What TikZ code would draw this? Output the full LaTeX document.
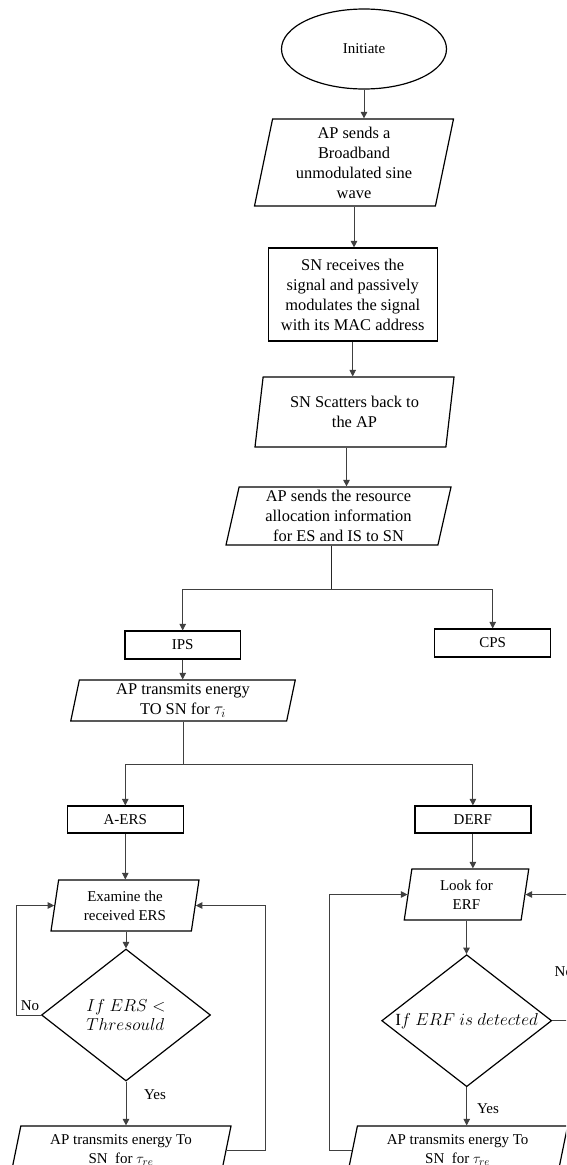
\documentclass[tikz,border=0pt]{standalone}
\usepackage{fontspec}
\setmainfont{Liberation Serif}
\usetikzlibrary{shapes.geometric,arrows.meta,calc}
\begin{document}
\begin{tikzpicture}[x=1pt,y=-1pt]
\tikzstyle{every node}+=[inner sep=0.5pt, align=center, font=\fontsize{15}{19}\selectfont]
\tikzstyle{big}=[font=\fontsize{16.4}{20}\selectfont]
\tikzstyle{lbl}=[font=\fontsize{15}{18}\selectfont]
\tikzstyle{box}=[draw, line width=1.2pt, rectangle]
\tikzstyle{para}=[draw, line width=1.2pt, trapezium, trapezium left angle=76, trapezium right angle=104, trapezium stretches body]
\tikzstyle{lowpara}=[para, trapezium left angle=73, trapezium right angle=107]
\tikzstyle{dia}=[draw, line width=1.2pt, diamond, shape aspect=1.29, font=\fontsize{17}{19}\selectfont]
\tikzstyle{arr}=[-{Triangle[length=6.5pt,width=6.5pt]}, line width=0.9pt, black!75]
\tikzstyle{conn}=[line width=0.9pt, black!75]
\useasboundingbox (0,0) rectangle (566,1165);
\clip (0,0) rectangle (566,1165);
\node[draw, line width=1.2pt, ellipse, minimum width=165pt, minimum height=80pt] (init) at (364,49) {Initiate};
\node[para, big, minimum width=199pt, minimum height=87pt] (bcast) at (354,162.5) {AP sends a\\Broadband\\unmodulated sine\\wave};
\node[box, big, minimum width=169pt, minimum height=93pt] (recv) at (352.7,294.5) {SN receives the\\signal and passively\\modulates the signal\\with its MAC address};
\node[para, big, minimum width=199pt, minimum height=70pt] (scat) at (354.5,412) {SN Scatters back to\\the AP};
\node[para, big, minimum width=225pt, minimum height=58pt] (alloc) at (338.5,516) {AP sends the resource\\allocation information\\for ES and IS to SN};
\node[box, minimum width=115.5pt, minimum height=28pt] (ips) at (182.7,645) {IPS};
\node[box, minimum width=116pt, minimum height=28pt] (cps) at (492.7,643) {CPS};
\node[para, big, minimum width=224.5pt, minimum height=41pt] (tx) at (183,700.5) {AP transmits energy\\TO SN for $\tau_i$};
\node[box, minimum width=116pt, minimum height=27pt] (aers) at (125.3,819.5) {A-ERS};
\node[box, minimum width=116pt, minimum height=27pt] (derf) at (472.9,819.5) {DERF};
\node[para, minimum width=148pt, minimum height=51pt] (exam) at (125,905.5) {Examine the\\received ERS};
\node[para, minimum width=124.5pt, minimum height=51pt] (look) at (466.5,894.5) {Look for\\ERF};
\node[dia, align=left, minimum width=169pt, minimum height=132pt] (ers) at (126,1015) {$If\ ERS <$\\$Thresould$};
\node[dia, minimum width=170pt, minimum height=132pt] (erf) at (466.7,1020.7) {$\mathrm{I}f\ ERF\ is\ detected$};
\node[lowpara, minimum width=220pt, minimum height=48pt] (txa) at (121,1150) {AP transmits energy To\\SN~ for $\tau_{re}$};
\node[lowpara, minimum width=220pt, minimum height=48pt] (txd) at (457.6,1150) {AP transmits energy To\\SN~ for $\tau_{re}$};
\node[lbl] (noa) at (30,1006) {No};
\node[lbl] (yesa) at (155,1095) {Yes};
\node[lbl, anchor=west] (nod) at (554,972) {No};
\node[lbl] (yesd) at (488,1109) {Yes};
\coordinate (s1) at (331.7,589);
\coordinate (s2) at (183.4,764);
\coordinate (m1) at ($(scat.south)!0.5!(alloc.north)$);
\coordinate (noA) at (16,0);
\coordinate (reA) at (265.7,0);
\coordinate (reD) at (329.3,0);
\coordinate (noD) at (580,0);
\draw[arr] (init) -- (init |- bcast.north);
\draw[arr] (bcast.south) -- (bcast.south |- recv.north);
\draw[arr] (recv.south) -- (recv.south |- scat.north);
\draw[arr] (m1 |- scat.south) -- (m1 |- alloc.north);
\draw[line width=1.2pt, black!85] (s1 |- alloc.south) -- (s1);
\draw[arr] (s1) -| (ips.north);
\draw[arr] (s1) -| (cps.north);
\draw[arr] (ips.south) -- (ips.south |- tx.north);
\draw[conn] (s2 |- tx.south) -- (s2);
\draw[arr] (s2) -| (aers.north);
\draw[arr] (s2) -| (derf.north);
\draw[arr] (aers.south) -- (aers.south |- exam.north);
\draw[arr] (ers.north |- exam.south) -- (ers.north);
\draw[arr] (ers.south) -- (ers.south |- txa.north);
\draw[arr] (ers.west) -| (noA |- exam.west) -- (exam.west);
\draw[arr] (txa.east) -| (reA |- exam.east) -- (exam.east);
\draw[arr] (derf.south) -- (derf.south |- look.north);
\draw[arr] (look.south) -- (look.south |- erf.north);
\draw[arr] (erf.south) -- (erf.south |- txd.north);
\draw[arr] (txd.west) -| (reD |- look.west) -- (look.west);
\draw[arr] (erf.east) -| (noD |- look.east) -- (look.east);
\end{tikzpicture}
\end{document}
